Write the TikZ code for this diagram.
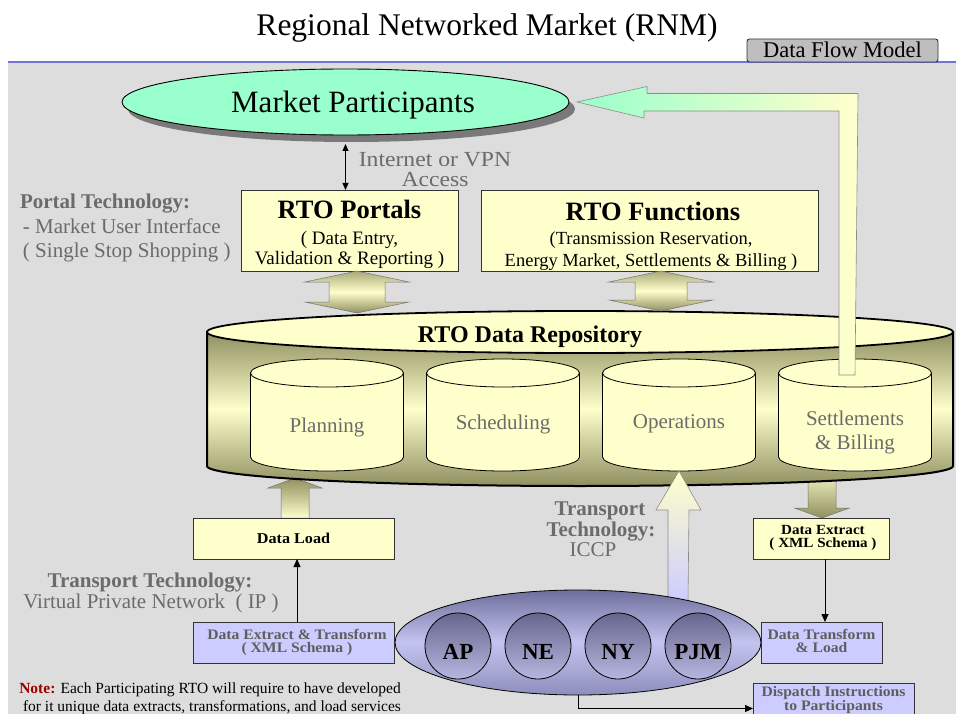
\documentclass[tikz,border=0pt]{standalone}
\usepackage{fontspec}
\setmainfont{Liberation Serif}
\newfontfamily\widefont{Liberation Serif}[FakeStretch=1.08]
\newfontfamily\widerfont{Liberation Serif}[FakeStretch=1.1]
\usetikzlibrary{shapes.geometric,arrows.meta,shadows}
\definecolor{bggray}{HTML}{DDDDDD}
\definecolor{ylw}{HTML}{FFFFCC}
\definecolor{lav}{HTML}{CCCCFF}
\definecolor{mint}{HTML}{99FFCC}
\definecolor{olivedk}{HTML}{8F8F60}
\definecolor{olivemd}{HTML}{A9A97A}
\definecolor{txtgray}{HTML}{6B6B6B}
\definecolor{boxgray}{HTML}{5E5E5E}
\definecolor{lblue}{HTML}{7373D5}
\definecolor{notered}{HTML}{990000}
\definecolor{dfmgray}{HTML}{BEBEBE}
\definecolor{regtop}{HTML}{6E6E9C}
\definecolor{regmid}{HTML}{C4C4F0}
\definecolor{regbot}{HTML}{8E8EBC}
\definecolor{circtop}{HTML}{66668E}
\definecolor{circbot}{HTML}{B6B6E0}
\newcommand\myfs[1]{\fontsize{#1}{#1}\selectfont}
\begin{document}
\begin{tikzpicture}[x=1pt,y=-1pt,
  every node/.style={inner sep=0pt, outer sep=0pt},
  ybox/.style={draw=black!80, fill=ylw, line width=0.8pt},
  lbox/.style={draw=black!80, fill=lav, line width=0.8pt},
  tline/.style={anchor=base},
  gtxt/.style={anchor=base, text=txtgray},
  btxt/.style={anchor=base, text=boxgray, font=\widefont\bfseries\myfs{14.5}},
  dblarrow/.style={draw=black!55, line width=0.5pt, top color=olivemd, bottom color=olivedk, middle color=ylw},
  thinarrow/.style={-{Triangle[length=8pt,width=7pt]}, line width=0.8pt},
  cyl/.style={fill=ylw, draw=black, line width=0.8pt}]
\useasboundingbox (0,0) rectangle (956,714);
% background
\fill[bggray] (8,62) rectangle (956,714);
\draw[lblue, line width=1.6pt] (8,62) -- (956,62);

% title
\node[tline] (title) at (487,36) {\myfs{31.5}Regional Networked Market (RNM)};
\node[draw=black!80, fill=dfmgray, rounded corners=2.5pt, line width=0.9pt,
      minimum width=191, minimum height=23] (dfm) at (842.5,50.5) {};
\node[tline] (dfmt) at (842.5,58) {\myfs{22.5}Data Flow Model};

% market participants
\node[ellipse, draw=black, line width=0.9pt, fill=mint, minimum width=447, minimum height=66,
      drop shadow={shadow xshift=6pt, shadow yshift=-7pt, fill=black, opacity=0.45}] (mp) at (345.5,102) {};
\node[tline] (mpt) at (353,113) {\myfs{31}Market Participants};

% single block arrows drawn below the repository
\path[draw=black!55, line width=0.5pt, top color=olivedk, bottom color=ylw]
  (295,478) coordinate (dltip) -- ++(27,10) -- ++(-13,0) -- ++(0,30) -- ++(-28,0) -- ++(0,-30) -- ++(-13,0) -- cycle;
\path[draw=black!55, line width=0.5pt, top color=ylw, bottom color=olivedk]
  (822,518) coordinate (detip) -- ++(27.5,-10) -- ++(-13.5,0) -- ++(0,-40) -- ++(-28,0) -- ++(0,40) -- ++(-13.5,0) -- cycle;

% repository body
\path[draw=black, line width=2pt, top color=olivedk, bottom color=olivedk, middle color=ylw]
  (207,332) -- (207,466) arc[start angle=180, end angle=360, x radius=373pt, y radius=20pt] -- (953,332) -- cycle;
\filldraw[fill=ylw, draw=black, line width=1.8pt] (580,332) ellipse[x radius=373pt, y radius=21pt];
\node[tline] (repot) at (530,342) {\bfseries\myfs{24}RTO Data Repository};

% inner cylinders
\foreach \cx/\nm in {327/plan,503/sched,679/ops,855/settle}{
  \filldraw[cyl] (\cx-76.5,373) -- (\cx-76.5,457) arc[start angle=180, end angle=360, x radius=76.5pt, y radius=14pt] -- (\cx+76.5,373) -- cycle;
  \filldraw[cyl] (\cx,373) ellipse[x radius=76.5pt, y radius=14pt];
  \coordinate (\nm) at (\cx,373);
}
\coordinate (opsbot) at (679,471);
\node[gtxt] (plant) at (327,432) {\myfs{21}Planning};
\node[gtxt] (schedt) at (503,429) {\myfs{21}Scheduling};
\node[gtxt] (opst) at (679,428) {\myfs{21}Operations};
\node[gtxt] (settlet1) at (855,425) {\myfs{21}Settlements};
\node[gtxt] (settlet2) at (855,449) {\myfs{21}\& Billing};

% portals & functions
\node[ybox, minimum width=217, minimum height=81] (portals) at (349.5,230.5) {};
\node[tline] at (349.5,219) {\bfseries\myfs{26.5}RTO Portals};
\node[tline] at (349.5,244) {\myfs{19}( Data Entry,};
\node[tline] at (349.5,265) {\myfs{19}Validation \& Reporting )};
\node[ybox, minimum width=337, minimum height=81] (functions) at (649.5,230.5) {};
\node[tline] at (653,221) {\bfseries\myfs{26.5}RTO Functions};
\node[tline] at (651,245) {\myfs{18.5}(Transmission Reservation,};
\node[tline] at (651,266) {\myfs{18.5}Energy Market, Settlements \& Billing )};

% double block arrows
\path[dblarrow] ([xshift=7.5pt]portals.south) -- ++(52,11) -- ++(-24,0) -- ++(0,20) -- ++(24,0) -- ++(-52,11) -- ++(-52,-11) -- ++(24,0) -- ++(0,-20) -- ++(-24,0) -- cycle;
\path[dblarrow] ([xshift=11.5pt]functions.south) -- ++(52,11) -- ++(-26,0) -- ++(0,18) -- ++(26,0) -- ++(-52,11) -- ++(-52,-11) -- ++(26,0) -- ++(0,-18) -- ++(-26,0) -- cycle;

% internet access
\draw[{Triangle[length=7pt,width=6pt]}-{Triangle[length=7pt,width=6pt]}, line width=0.8pt]
  ([yshift=-9pt]mp.south) -- (mp.south |- portals.north);
\node[gtxt] at (435,167) {\widerfont\myfs{21.5}Internet or VPN};
\node[gtxt] at (435,187) {\widerfont\myfs{21.5}Access};

% portal technology
\node[gtxt, anchor=base west] at (20,209) {\bfseries\myfs{21}Portal Technology:};
\node[gtxt, anchor=base west] at (23,233.5) {\myfs{21}- Market User Interface};
\node[gtxt, anchor=base west] at (23,258) {\myfs{21}( Single Stop Shopping )};

% return arrow to market participants
\coordinate (rtip) at ([xshift=8pt]mp.east);
\path[draw=black!45, line width=0.6pt, left color=mint, right color=ylw]
  (rtip) -- ++(70,-15.5) -- ++(0,7) -- ++(211,0) -- (settle |- 0,375) -- ++(-16,0) -- ++(0,-264) -- ++(-195,0) -- ++(0,7) -- cycle;

% ICCP arrow
\coordinate (iccpbase) at (678,602);
\path[draw=black!45, line width=0.6pt, top color=ylw, bottom color=lav]
  (opsbot) -- ++(22,39) -- ++(-12,0) -- (iccpbase -| 688,0) -- (iccpbase -| 668,0) -- ++(0,-92) -- ++(-12,0) -- cycle;
\node[gtxt] at (600,515) {\bfseries\myfs{21}Transport};
\node[gtxt] at (601,536) {\bfseries\myfs{21}Technology:};
\node[gtxt] at (593,556) {\myfs{21}ICCP};

% regions ellipse and RTOs
\node[ellipse, draw=black, line width=0.8pt, minimum width=366, minimum height=105,
      top color=regtop, bottom color=regbot, middle color=regmid] (regions) at (578,642.5) {};
\foreach \cx/\nm/\lb in {458/ap/AP,538/ne/NE,618/ny/NY,698/pjm/PJM}{
  \node[circle, draw=black, line width=0.8pt, minimum size=66, top color=circtop, bottom color=circbot] (\nm) at (\cx,646) {};
  \node[tline] at (\cx,659) {\bfseries\myfs{23}\lb};
}

% left bottom boxes
\node[ybox, minimum width=201, minimum height=41] (dl) at (293.5,538.5) {};
\node[tline] at (293.5,543) {\widefont\bfseries\myfs{15}Data Load};
\node[lbox, minimum width=201, minimum height=41] (det) at (293.5,642.5) {};
\node[btxt] at (297,639) {Data Extract \& Transform};
\node[btxt] at (297,652.5) {( XML Schema )};
\draw[thinarrow] ([xshift=3.5pt]det.north) -- ([xshift=3.5pt]dl.south);
\node[gtxt] at (150,587) {\bfseries\myfs{21}Transport Technology:};
\node[gtxt] at (151,608) {\myfs{21}Virtual Private Network~~( IP )};

% right bottom boxes
\node[ybox, minimum width=136, minimum height=41] (de) at (821,538.5) {};
\node[tline] at (823,534) {\widefont\bfseries\myfs{14}Data Extract};
\node[tline] at (823,547.5) {\widefont\bfseries\myfs{14}( XML Schema )};
\node[lbox, minimum width=121, minimum height=41] (dtl) at (821.5,642.5) {};
\node[btxt] at (821.5,639) {Data Transform};
\node[btxt] at (821.5,652.5) {\& Load};
\draw[thinarrow] ([xshift=4pt]de.south) -- ([xshift=4pt]de.south |- dtl.north);
\node[lbox, minimum width=161, minimum height=36] (disp) at (833.5,701) {};
\node[btxt] at (833.5,696.5) {Dispatch Instructions};
\node[btxt] at (833.5,710.5) {to Participants};
\draw[thinarrow] (regions.south) |- ([yshift=-7.5pt]disp.west);

% note
\node[tline] at (210,693) {\myfs{15.5}\textcolor{notered}{\bfseries Note:} Each Participating RTO will require to have developed};
\node[tline] at (212,711) {\myfs{15.5}for it unique data extracts, transformations, and load services};
\end{tikzpicture}
\end{document}
